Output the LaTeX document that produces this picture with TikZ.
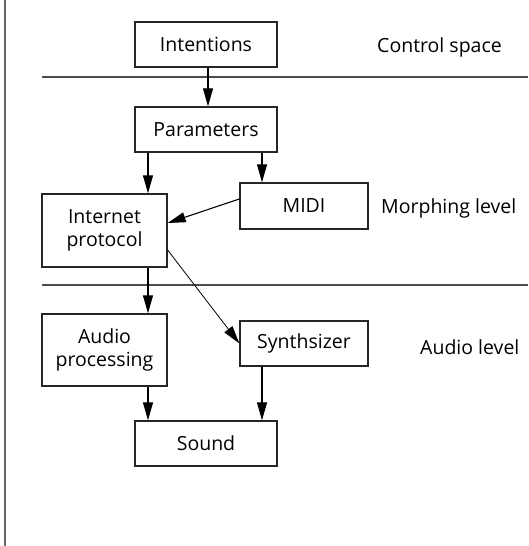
\documentclass[tikz,border=0pt]{standalone}
\usepackage{fontspec}
\setmainfont{Open Sans}
\usetikzlibrary{arrows.meta}
\begin{document}
\begin{tikzpicture}[x=1pt,y=-1pt,
  box/.style={draw=black!85,line width=1.3pt,minimum height=45pt,inner sep=0pt,align=center,font=\fontsize{19.5}{23}\selectfont},
  lbl/.style={anchor=west,inner sep=0pt,font=\fontsize{19.5}{23}\selectfont},
  arr/.style={draw=black,line width=1.1pt,-{Triangle[length=18pt,width=10pt]}},
  sep/.style={draw=black!70,line width=1.2pt}]
\useasboundingbox (0,0) rectangle (528,546);
\draw[draw=black!60,line width=2pt] (4.5,0) coordinate (vt) -- (4.5,546) coordinate (vb);
\coordinate (s1a) at (42,77); \coordinate (s1b) at (528,77);
\coordinate (s2a) at (42,285); \coordinate (s2b) at (528,285);
\draw[sep] (s1a) -- (s1b);
\draw[sep] (s2a) -- (s2b);
\node[box,minimum width=142pt] (int) at (206,44.5) {Intentions};
\node[box,minimum width=142pt] (par) at (206,129.5) {Parameters};
\node[box,minimum width=128pt,minimum height=46pt] (midi) at (304,206) {MIDI};
\node[box,minimum width=125pt,minimum height=73pt] (inet) at (104.5,230.5) {Internet\\protocol};
\node[box,minimum width=125pt,minimum height=72pt] (aud) at (104.5,350) {Audio\\processing};
\node[box,minimum width=128pt] (syn) at (304,343.5) {Synthsizer};
\node[box,minimum width=142pt] (snd) at (206,443.5) {Sound};
\node[lbl] (l1) at (377,47) {Control space};
\node[lbl] (l2) at (381,208) {Morphing level};
\node[lbl] (l3) at (420,347) {Audio level};
\draw[arr] ([xshift=2pt]int.south) -- ([xshift=2pt]int.south |- par.north);
\draw[arr] ([xshift=-58pt]par.south) -- ([xshift=-58pt]par.south |- inet.north);
\draw[arr] ([xshift=56pt]par.south) -- ([xshift=56pt]par.south |- midi.north);
\draw[arr] ([yshift=7pt]midi.west) -- ([yshift=7.5pt]inet.east);
\draw[arr,line width=0.8pt] ([yshift=-19.5pt]inet.east) -- (syn.west);
\draw[arr] ([xshift=43.5pt]inet.south) -- ([xshift=43.5pt]inet.south |- aud.north);
\draw[arr] ([xshift=43.5pt]aud.south) -- ([xshift=43.5pt]aud.south |- snd.north);
\draw[arr] ([xshift=-42pt]syn.south) -- ([xshift=-42pt]syn.south |- snd.north);
\end{tikzpicture}
\end{document}
